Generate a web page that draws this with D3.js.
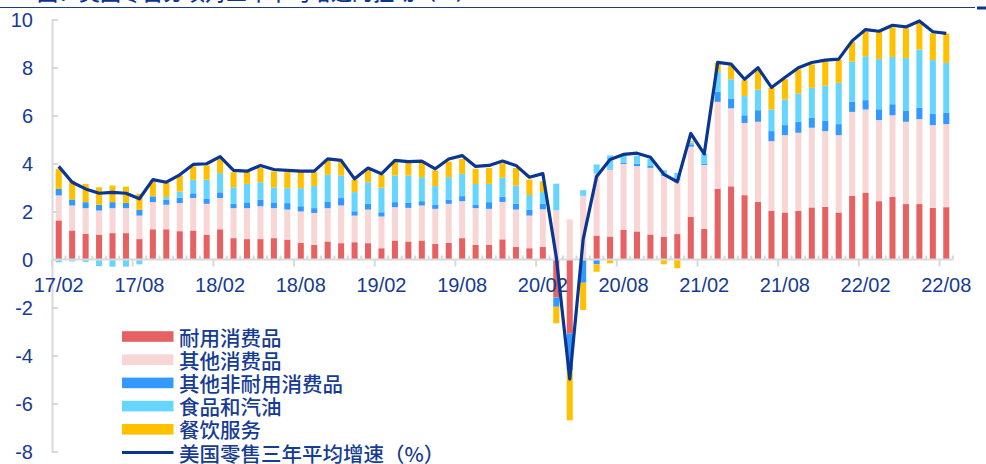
<!DOCTYPE html>
<html>
<head>
<meta charset="utf-8">
<script src="https://cdn.jsdelivr.net/npm/d3@7"></script>
<style>
  html, body { margin: 0; padding: 0; background: #ffffff; }
  svg { display: block; }
</style>
</head>
<body>
<svg id="chart" width="986" height="464"></svg>
<script>
// ---------------- DATA ----------------
const months = [
  "17/02","17/03","17/04","17/05","17/06","17/07","17/08","17/09","17/10","17/11","17/12",
  "18/01","18/02","18/03","18/04","18/05","18/06","18/07","18/08","18/09","18/10","18/11","18/12",
  "19/01","19/02","19/03","19/04","19/05","19/06","19/07","19/08","19/09","19/10","19/11","19/12",
  "20/01","20/02","20/03","20/04","20/05","20/06","20/07","20/08","20/09","20/10","20/11","20/12",
  "21/01","21/02","21/03","21/04","21/05","21/06","21/07","21/08","21/09","21/10","21/11","21/12",
  "22/01","22/02","22/03","22/04","22/05","22/06","22/07","22/08"
];
const xTickLabels = ["17/02","17/08","18/02","18/08","19/02","19/08","20/02","20/08","21/02","21/08","22/02","22/08"];
const yTicks = [-8, -6, -4, -2, 0, 2, 4, 6, 8, 10];

// 耐用消费品
const durable = [
  1.63,1.21,1.07,1.04,1.10,1.10,0.85,1.26,1.26,1.18,1.21,
  1.03,1.26,0.89,0.85,0.85,0.89,0.83,0.69,0.61,0.75,0.68,0.72,
  0.68,0.47,0.79,0.75,0.79,0.65,0.69,0.89,0.61,0.61,0.84,0.52,
  0.47,0.52,-1.58,-3.08,0.05,1.00,0.96,1.24,1.17,1.04,0.94,1.06,
  1.78,1.27,2.95,3.05,2.68,2.40,2.03,1.96,2.03,2.17,2.19,1.96,
  2.65,2.79,2.43,2.61,2.31,2.31,2.15,2.18
];
// 其他消费品
const otherConsumer = [
  1.04,1.04,1.07,1.00,1.04,1.04,0.98,1.13,1.02,1.17,1.35,
  1.29,1.30,1.25,1.29,1.37,1.25,1.25,1.31,1.33,1.39,1.57,1.11,
  1.40,1.32,1.39,1.40,1.46,1.46,1.63,1.54,1.53,1.50,1.56,1.56,
  1.36,1.57,2.05,1.67,2.60,2.57,2.79,2.74,2.72,2.78,2.55,2.25,
  2.92,2.67,3.62,3.25,3.01,3.34,2.90,3.22,3.25,3.32,3.16,3.22,
  3.50,3.46,3.38,3.40,3.43,3.54,3.45,3.46
];
// 其他非耐用消费品
const otherNondurable = [
  0.27,0.25,0.25,0.24,0.25,0.22,0.24,0.24,0.22,0.22,0.20,
  0.21,0.24,0.18,0.24,0.28,0.24,0.27,0.22,0.20,0.28,0.31,0.18,
  0.24,0.18,0.21,0.21,0.18,0.17,0.18,0.21,0.15,0.28,0.21,0.24,
  0.25,0.24,-0.39,-1.55,-0.97,-0.20,0.04,0.05,0.10,0.10,0.05,0.05,
  0.10,0.05,0.42,0.39,0.32,0.48,0.42,0.42,0.46,0.41,0.43,0.46,
  0.42,0.39,0.45,0.46,0.45,0.47,0.46,0.47
];
// 食品和汽油
const foodGas = [
  -0.12,-0.08,-0.10,-0.28,-0.30,-0.30,-0.20,0.02,0.10,0.26,0.56,
  0.80,0.80,0.69,0.77,0.72,0.63,0.62,0.75,0.92,1.11,0.94,0.80,
  0.90,1.02,1.11,1.14,1.00,0.78,0.93,0.93,0.86,0.76,0.80,0.76,
  0.61,0.48,1.11,0.00,0.24,0.39,0.55,0.33,0.33,0.27,0.18,0.25,
  0.08,0.42,0.82,0.82,0.80,0.86,0.90,1.07,1.18,1.25,1.46,1.72,
  1.67,1.83,2.09,1.97,2.21,2.43,2.25,2.08
];
// 餐饮服务
const dining = [
  0.84,0.79,0.76,0.73,0.69,0.68,0.67,0.67,0.60,0.67,0.56,
  0.59,0.59,0.63,0.52,0.59,0.66,0.67,0.67,0.58,0.60,0.56,0.52,
  0.52,0.54,0.56,0.56,0.60,0.65,0.65,0.62,0.63,0.66,0.60,0.73,
  0.64,0.45,-0.69,-2.07,-1.13,-0.31,-0.16,0.05,0.00,0.00,-0.20,-0.36,
  0.05,-0.03,0.39,0.57,0.66,0.81,0.90,0.84,1.00,0.98,1.02,0.97,
  0.83,1.02,1.14,1.23,1.23,1.15,1.11,1.23
];
// 美国零售三年平均增速（%）
const retailAvg3y = [
  3.88,3.22,2.94,2.76,2.80,2.76,2.53,3.33,3.22,3.53,3.96,
  3.99,4.29,3.71,3.68,3.92,3.75,3.71,3.68,3.68,4.19,4.13,3.36,
  3.81,3.57,4.13,4.08,4.10,3.78,4.19,4.33,3.88,3.92,4.10,3.92,
  3.43,3.58,0.10,-4.98,0.85,3.46,4.17,4.38,4.43,4.26,3.55,3.24,
  5.25,4.40,8.21,8.14,7.51,7.99,7.17,7.58,7.99,8.21,8.31,8.35,
  9.11,9.58,9.51,9.76,9.69,9.94,9.49,9.42
];

const seriesNames = ["耐用消费品", "其他消费品", "其他非耐用消费品", "食品和汽油", "餐饮服务"];
const lineName = "美国零售三年平均增速（%）";
const titleText = "图：美国零售分项对三年平均增速的拉动（%）";

// ---------------- STYLE ----------------
const seriesColors = ["#e66262", "#f9d6d6", "#3399ff", "#66d6ff", "#ffc000"];
const lineColor = "#0a3591";
const textColor = "#163b92";
const axisColor = "#d9d9d9";
const latinFont = "'Liberation Sans', Arial, sans-serif";
const cjkFont = "'Noto Sans CJK SC', 'Noto Sans', sans-serif";

// ---------------- BUILD ----------------
const keys = ["d", "oc", "on", "fg", "dn"];
const seriesArrays = [durable, otherConsumer, otherNondurable, foodGas, dining];
const table = months.map((m, i) => {
  const row = { month: m, avg: retailAvg3y[i] };
  keys.forEach((k, j) => row[k] = seriesArrays[j][i]);
  return row;
});

const svg = d3.select("#chart");

const x = d3.scaleBand()
  .domain(months)
  .range([52, 953])
  .paddingInner(0.55)
  .paddingOuter(0.275);

const y = d3.scaleLinear()
  .domain([-8, 10])
  .range([451.5, 19.5]);

// header line & cut-off title (only its lower edge is visible)
svg.append("text")
  .attr("x", 37).attr("y", -0.5)
  .attr("font-family", cjkFont).attr("font-size", 21).attr("font-weight", 500)
  .attr("fill", lineColor)
  .text(titleText);
svg.append("line")
  .attr("x1", 0).attr("x2", 975).attr("y1", 7.5).attr("y2", 7.5)
  .attr("stroke", "#1b3a80").attr("stroke-width", 1.2);
svg.append("rect")
  .attr("x", 977).attr("y", 6.5).attr("width", 9).attr("height", 3)
  .attr("fill", lineColor);

// stacked bars
const stack = d3.stack().keys(keys).offset(d3.stackOffsetDiverging);
const stacked = stack(table);

const barsG = svg.append("g");
stacked.forEach((layer, j) => {
  barsG.append("g")
    .attr("fill", seriesColors[j])
    .selectAll("rect")
    .data(layer)
    .join("rect")
    .attr("x", d => x(d.data.month))
    .attr("width", x.bandwidth())
    .attr("y", d => y(Math.max(d[0], d[1])))
    .attr("height", d => Math.abs(y(d[0]) - y(d[1])));
});

// y axis
const yAxis = d3.axisRight(y).tickValues(yTicks).tickSize(6).tickFormat("");
const yG = svg.append("g").attr("transform", "translate(52,0)").call(yAxis);
yG.select(".domain").attr("stroke", axisColor).attr("stroke-width", 2);
yG.selectAll(".tick line").attr("stroke", axisColor).attr("stroke-width", 2);

svg.append("g").selectAll("text")
  .data(yTicks)
  .join("text")
  .attr("x", 33)
  .attr("y", d => y(d))
  .attr("dy", "0.36em")
  .attr("text-anchor", "end")
  .attr("font-family", latinFont)
  .attr("font-size", 20)
  .attr("fill", textColor)
  .text(d => d);

// x axis
const step = x.step();
const x0 = x.range()[0];
const boundaries = d3.range(0, months.length + 1);
const xAxisG = svg.append("g");
xAxisG.append("line")
  .attr("x1", x0).attr("x2", x.range()[1])
  .attr("y1", y(0)).attr("y2", y(0))
  .attr("stroke", axisColor).attr("stroke-width", 2);
xAxisG.selectAll("line.minor")
  .data(boundaries.filter(k => k % 6 !== 0))
  .join("line")
  .attr("class", "minor")
  .attr("x1", k => x0 + k * step).attr("x2", k => x0 + k * step)
  .attr("y1", y(0) - 4).attr("y2", y(0))
  .attr("stroke", axisColor).attr("stroke-width", 2);
xAxisG.selectAll("line.major")
  .data(boundaries.filter(k => k % 6 === 0))
  .join("line")
  .attr("class", "major")
  .attr("x1", k => x0 + k * step).attr("x2", k => x0 + k * step)
  .attr("y1", y(0)).attr("y2", y(0) + 7)
  .attr("stroke", axisColor).attr("stroke-width", 2);

xAxisG.selectAll("text")
  .data(xTickLabels)
  .join("text")
  .attr("x", d => x(d) + x.bandwidth() / 2)
  .attr("y", 292)
  .attr("text-anchor", "middle")
  .attr("font-family", latinFont)
  .attr("font-size", 20)
  .attr("fill", textColor)
  .text(d => d);

// line
const line = d3.line()
  .x(d => x(d.month) + x.bandwidth() / 2)
  .y(d => y(d.avg));
svg.append("path")
  .datum(table)
  .attr("d", line)
  .attr("fill", "none")
  .attr("stroke", lineColor)
  .attr("stroke-width", 3.2)
  .attr("stroke-linejoin", "round");

// legend
const legendTop = 336.5, legendStep = 23.2;
const legendItems = seriesNames.map((n, i) => ({ name: n, color: seriesColors[i], type: "rect" }))
  .concat([{ name: lineName, color: lineColor, type: "line" }]);
const lg = svg.append("g");
legendItems.forEach((it, i) => {
  const cy = legendTop + i * legendStep;
  if (it.type === "rect") {
    lg.append("rect").attr("x", 122).attr("y", cy - 5.3).attr("width", 51.5).attr("height", 10.6).attr("fill", it.color);
  } else {
    lg.append("line").attr("x1", 122).attr("x2", 173.5).attr("y1", cy).attr("y2", cy)
      .attr("stroke", it.color).attr("stroke-width", 3);
  }
  lg.append("text")
    .attr("x", 179).attr("y", cy)
    .attr("dominant-baseline", "central")
    .attr("font-family", cjkFont)
    .attr("font-size", 20.5)
    .attr("font-weight", 500)
    .attr("fill", textColor)
    .text(it.name);
});
</script>
</body>
</html>
